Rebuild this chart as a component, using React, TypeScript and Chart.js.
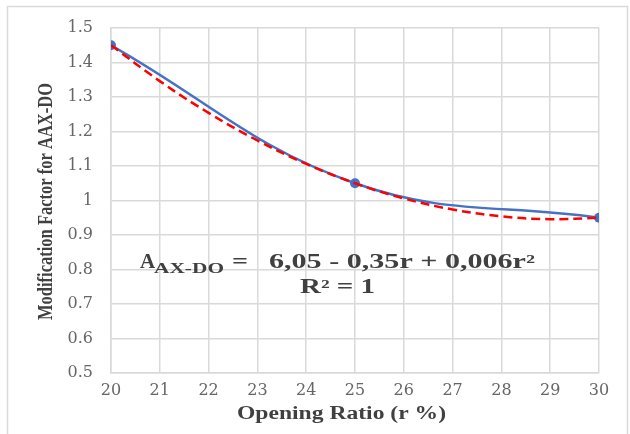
import React, { useEffect, useRef } from 'react';
import { Chart, registerables } from 'chart.js';

Chart.register(...registerables);

// ---- data ----
const ratioValues = [20, 25, 30];
const factorValues = [1.45, 1.05, 0.95];
const trendRatios = [20, 21, 22, 23, 24, 25, 26, 27, 28, 29, 30];
const trendValues = [1.45, 1.346, 1.254, 1.174, 1.106, 1.05, 1.006, 0.974, 0.954, 0.946, 0.95];
const xRange = [20, 30];
const yRange = [0.5, 1.5];
const xTitle = 'Opening Ratio (r %)';
const yTitle = 'Modification Factor for AAX-DO';
const eqLetter = 'A';
const eqSub = 'AX-DO';
const eqEquals = '=';
const eqRest = '6,05 - 0,35r + 0,006r²';
const eqR2 = 'R² = 1';

const SERIF = '"Liberation Serif", "Times New Roman", serif';
const TEXT_COLOR = '#404040';

function drawStretched(
  ctx: CanvasRenderingContext2D,
  text: string,
  x: number,
  y: number,
  font: string,
  width?: number
) {
  ctx.save();
  ctx.font = font;
  ctx.fillStyle = TEXT_COLOR;
  ctx.textAlign = 'left';
  ctx.textBaseline = 'alphabetic';
  const w = ctx.measureText(text).width;
  ctx.translate(x, y);
  if (width) ctx.scale(width / w, 1);
  ctx.fillText(text, 0, 0);
  ctx.restore();
}

const decorPlugin = {
  id: 'decor',
  beforeDraw(chart: any) {
    const ctx = chart.ctx as CanvasRenderingContext2D;
    ctx.save();
    ctx.strokeStyle = '#d9d9d9';
    ctx.lineWidth = 1.5;
    ctx.strokeRect(7.5, 6.5, 620, 440);
    ctx.restore();
  },
  afterDraw(chart: any) {
    const ctx = chart.ctx as CanvasRenderingContext2D;
    // equation
    drawStretched(ctx, eqLetter, 140, 268, `bold 21px ${SERIF}`);
    drawStretched(ctx, eqSub, 154, 273, `bold 14px ${SERIF}`, 70);
    drawStretched(ctx, eqEquals, 232, 268, `bold 20px ${SERIF}`, 16);
    drawStretched(ctx, eqRest, 269, 268, `bold 20px ${SERIF}`, 266);
    drawStretched(ctx, eqR2, 300, 293, `bold 20px ${SERIF}`, 75);
    // x title
    drawStretched(ctx, xTitle, 237, 419, `bold 18px ${SERIF}`, 209);
    // y title (rotated)
    ctx.save();
    ctx.font = `bold 16.5px ${SERIF}`;
    ctx.fillStyle = TEXT_COLOR;
    ctx.textAlign = 'center';
    ctx.textBaseline = 'alphabetic';
    const w = ctx.measureText(yTitle).width;
    ctx.translate(52, 201.5);
    ctx.rotate(-Math.PI / 2);
    ctx.scale(237 / w, 1.3);
    ctx.fillText(yTitle, 0, 0);
    ctx.restore();
  },
};

export default function App() {
  const ref = useRef<HTMLCanvasElement | null>(null);

  useEffect(() => {
    if (!ref.current) return;
    const gridColor = '#d9d9d9';
    const tickFont = { family: '"DejaVu Serif", serif', size: 16 };
    const chart = new Chart(ref.current, {
      type: 'line',
      data: {
        datasets: [
          {
            label: 'factor',
            data: ratioValues.map((x, i) => ({ x, y: factorValues[i] })),
            borderColor: '#4472C4',
            backgroundColor: '#4472C4',
            borderWidth: 2.5,
            pointRadius: 5,
            pointBorderWidth: 0,
            tension: 0.4,
            order: 2,
          },
          {
            label: 'trend',
            data: trendRatios.map((x, i) => ({ x, y: trendValues[i] })),
            borderColor: '#FF0000',
            borderWidth: 2.5,
            borderDash: [9, 5],
            pointRadius: 0,
            tension: 0.4,
            order: 1,
          },
        ],
      },
      options: {
        responsive: false,
        animation: false,
        devicePixelRatio: 1,
        layout: { padding: { top: 28, right: 31, left: 0, bottom: 0 } },
        plugins: { legend: { display: false }, tooltip: { enabled: false } },
        scales: {
          x: {
            type: 'linear',
            min: xRange[0],
            max: xRange[1],
            ticks: { stepSize: 1, font: tickFont, color: '#666666', padding: 8 },
            grid: { color: gridColor, lineWidth: 1.5, drawTicks: false },
            border: { color: gridColor, width: 1.5 },
            afterFit: (s: any) => {
              s.height = 61;
            },
          },
          y: {
            type: 'linear',
            min: yRange[0],
            max: yRange[1],
            ticks: {
              stepSize: 0.1,
              font: tickFont,
              color: '#666666',
              padding: 18,
              callback: (v: any) => String(Number(Number(v).toFixed(1))),
            },
            grid: { color: gridColor, lineWidth: 1.5, drawTicks: false },
            border: { color: gridColor, width: 1.5 },
            afterFit: (s: any) => {
              s.width = 111;
            },
          },
        },
      },
      plugins: [decorPlugin],
    });
    return () => chart.destroy();
  }, []);

  return (
    <div style={{ position: 'fixed', left: 0, top: 0, width: 630, height: 434, background: '#fff' }}>
      <canvas ref={ref} width={630} height={434} style={{ display: 'block' }} />
    </div>
  );
}
